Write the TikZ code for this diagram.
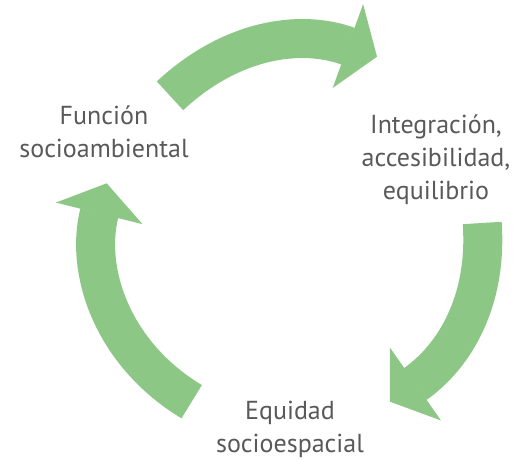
\documentclass[tikz,border=0pt]{standalone}
\usepackage{fontspec}
\setmainfont{PT Sans}
\usetikzlibrary{arrows.meta}
\definecolor{cyclegreen}{RGB}{141,199,133}
\definecolor{cyclegray}{RGB}{89,89,89}
\tikzset{
	cyclelbl/.style={align=center, text=cyclegray, inner sep=0pt,
		font=\fontsize{26}{33}\selectfont},
	cyclearr/.style={draw=cyclegreen, line width=39pt,
		-{Triangle[length=31pt, width=89pt, line width=2pt]}}
}
\begin{document}
\begin{tikzpicture}[x=1pt, y=1pt]
	\useasboundingbox (0,0) rectangle (514,459);
	\node[cyclelbl] (fun) at (104,327.5) {Función\\socioambiental};
	\node[cyclelbl] (int) at (436,299) {Integración,\\accesibilidad,\\equilibrio};
	\node[cyclelbl] (equ) at (290,29.7) {Equidad\\socioespacial};
	\coordinate (top0) at (170,363.2);
	\coordinate (top1) at (377,402.3);
	\coordinate (rgt0) at (482.2,236);
	\coordinate (rgt1) at (390,57.3);
	\coordinate (lft0) at (191.7,57.3);
	\coordinate (lft1) at (106.7,275.7);
	\draw[cyclearr] (top0) to[out=43, in=160] (top1);
	\draw[cyclearr] (rgt0) to[out=-86, in=35] (rgt1);
	\draw[cyclearr] (lft0) to[out=149, in=-104] (lft1);
\end{tikzpicture}
\end{document}
